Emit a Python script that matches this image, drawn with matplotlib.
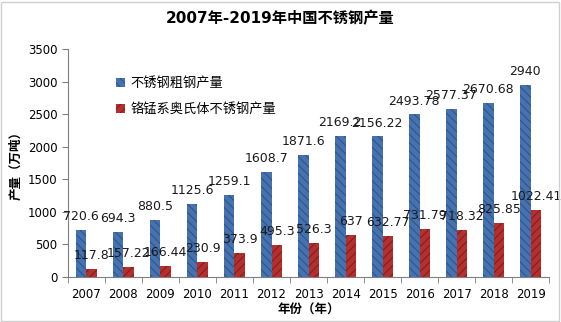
import numpy as np
import matplotlib.pyplot as plt
from matplotlib.patches import Rectangle

plt.rcParams['font.family'] = ['DejaVu Sans', 'Noto Sans CJK SC']
plt.rcParams['hatch.linewidth'] = 0.7

years = ['2007', '2008', '2009', '2010', '2011', '2012', '2013',
         '2014', '2015', '2016', '2017', '2018', '2019']
crude = [720.6, 694.3, 880.5, 1125.6, 1259.1, 1608.7, 1871.6,
         2169.2, 2156.22, 2493.78, 2577.37, 2670.68, 2940]
crmn = [117.8, 157.22, 166.44, 230.9, 373.9, 495.3, 526.3,
        637, 632.77, 731.79, 718.32, 825.85, 1022.41]
crude_name = '不锈钢粗钢产量'
crmn_name = '铬锰系奥氏体不锈钢产量'

fig = plt.figure(figsize=(5.61, 3.22), dpi=100)
ax = fig.add_axes([0.121, 0.140, 0.858, 0.708])

x = np.arange(len(years))
w = 0.29
b1 = ax.bar(x - w / 2, crude, w, color='#4672b0', edgecolor='#2c5189',
            hatch='\\\\\\\\', linewidth=0, label=crude_name)
b2 = ax.bar(x + w / 2, crmn, w, color='#b3302f', edgecolor='#801a1a',
            hatch='////', linewidth=0, label=crmn_name)

def fmt(v):
    return ('%g' % v)

for xi, v in zip(x, crude):
    ax.annotate(fmt(v), (xi - w / 2, v), xytext=(0, 5), textcoords='offset points',
                ha='center', va='bottom', fontsize=9, color='#1a1a1a')
for xi, v in zip(x, crmn):
    ax.annotate(fmt(v), (xi + w / 2, v), xytext=(0, 5), textcoords='offset points',
                ha='center', va='bottom', fontsize=9, color='#1a1a1a')

ax.set_xlim(-0.5, len(years) - 0.5)
ax.set_ylim(0, 3500)
ax.set_yticks(range(0, 3501, 500))
ax.set_xticks(x)
ax.set_xticklabels(years)
ax.set_xticks(np.arange(-0.5, len(years)), minor=True)
ax.tick_params(axis='x', which='major', length=0, labelsize=8.5, pad=8)
ax.tick_params(axis='x', which='minor', length=4, color='#7f7f7f')
ax.tick_params(axis='y', length=4, color='#7f7f7f', labelsize=8.5)

for s in ['top', 'right']:
    ax.spines[s].set_visible(False)
for s in ['left', 'bottom']:
    ax.spines[s].set_color('#7f7f7f')

ax.set_ylabel('产量（万吨）', fontsize=9, fontweight='bold', labelpad=4)
ax.set_xlabel('年份（年）', fontsize=9, fontweight='bold', labelpad=2)
fig.suptitle('2007年-2019年中国不锈钢产量', fontsize=11, fontweight='bold', y=0.965)

ax.legend(loc='upper left', bbox_to_anchor=(0.075, 0.93), frameon=False,
          fontsize=9.5, handlelength=0.7, handleheight=0.7, handletextpad=0.4,
          labelspacing=1.0)

fig.patches.append(Rectangle((0.002, 0.003), 0.995, 0.992, transform=fig.transFigure,
                             fill=False, edgecolor='#d0d0d0', linewidth=1))

fig.savefig('out.png', dpi=100)
